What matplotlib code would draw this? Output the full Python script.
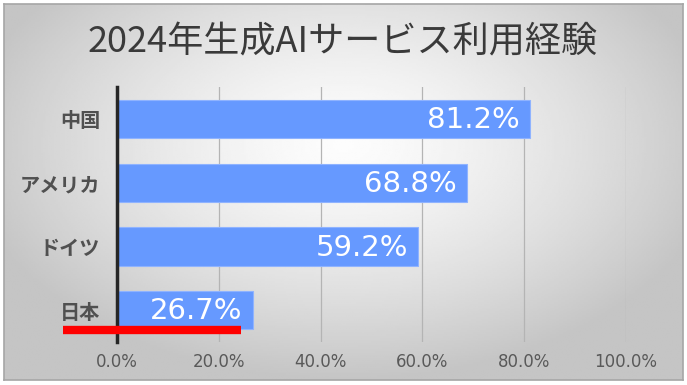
import numpy as np
import matplotlib
matplotlib.use('Agg')
import matplotlib.pyplot as plt
from matplotlib.lines import Line2D

plt.rcParams['font.family'] = ['Noto Sans CJK JP', 'DejaVu Sans']

title = "2024年生成AIサービス利用経験"
countries = ["中国", "アメリカ", "ドイツ", "日本"]
rates = [81.2, 68.8, 59.2, 26.7]
xticks = [0, 20, 40, 60, 80, 100]

W, H = 687, 385
fig = plt.figure(figsize=(W / 100, H / 100), dpi=100)
fig.patch.set_facecolor("white")

# radial gray gradient background inside a thin frame
bg = fig.add_axes([4 / W, 5 / H, 679 / W, 376 / H])
yy, xx = np.mgrid[-1:1:200j, -1:1:360j]
r = np.sqrt((xx * 0.95) ** 2 + ((yy + 0.25) * 0.85) ** 2)
shade = np.clip(0.99 - 0.2 * r ** 1.4, 0.77, 0.99)
bg.imshow(shade, cmap="gray", vmin=0, vmax=1, aspect="auto", extent=[0, 1, 0, 1])
bg.set_xticks([])
bg.set_yticks([])
for s in bg.spines.values():
    s.set_color("#a6a6a6")
    s.set_linewidth(1.2)

ax = fig.add_axes([117 / W, 1 - 342 / H, 509 / W, 255 / H])
ax.patch.set_alpha(0)
pos = np.arange(len(countries))
ax.barh(pos, rates, height=0.6, color="#6699ff", edgecolor="#8fb3ff", linewidth=0.8, zorder=3)
for p, v in zip(pos, rates):
    ax.text(v - 2, p + 0.02, "%.1f%%" % v, color="white", fontsize=21, ha="right", va="center",
            family=["DejaVu Sans"], zorder=4)

ax.set_xlim(0, 100)
ax.set_ylim(len(countries) - 0.5, -0.5)
ax.set_xticks(xticks)
ax.set_xticklabels(["%.1f%%" % t for t in xticks], color="#595959", fontsize=12, family=["DejaVu Sans"])
ax.set_yticks(pos)
ax.set_yticklabels(countries, color="#505050", fontsize=14.5, fontweight="bold")
ax.tick_params(length=0, pad=8)
ax.tick_params(axis="y", pad=12)
ax.xaxis.grid(True, color="#b4b4b4", linewidth=0.9, zorder=0)
for s in ["top", "right", "bottom"]:
    ax.spines[s].set_visible(False)
ax.spines["left"].set_color("#262626")
ax.spines["left"].set_linewidth(2.5)
ax.spines["left"].set_zorder(5)

fig.text(343 / W, 1 - 43 / H, title, ha="center", va="center", fontsize=26, color="#3a3a3a")

# red underline marking Japan
fig.add_artist(Line2D([63 / W, 241 / W], [1 - 330 / H, 1 - 330 / H], color="red", linewidth=6,
                      solid_capstyle="butt"))

fig.savefig("out.png", dpi=100)
